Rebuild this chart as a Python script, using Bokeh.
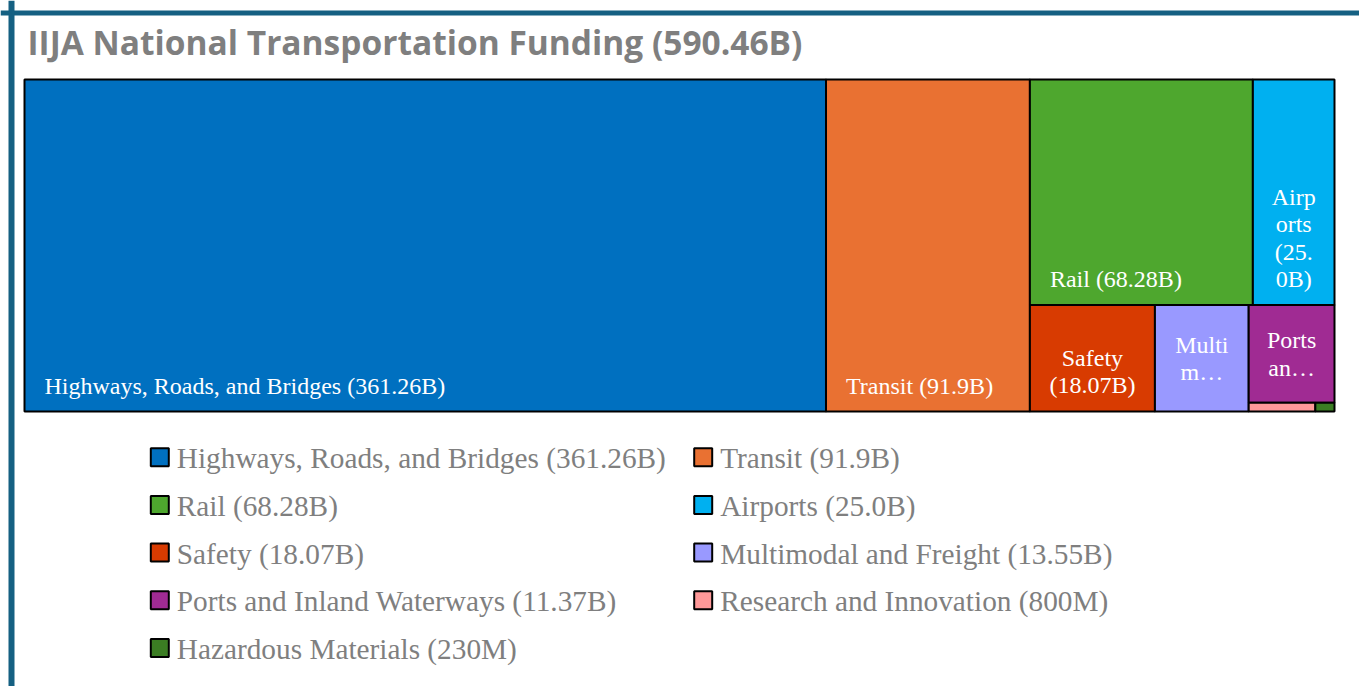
from bokeh.plotting import figure
from bokeh.models import ColumnDataSource, Range1d, Span, Label
from bokeh.core.properties import value
from bokeh.embed import file_html
from bokeh.resources import INLINE

# ---------------- data ----------------
categories = [
    "Highways, Roads, and Bridges",
    "Transit",
    "Rail",
    "Airports",
    "Safety",
    "Multimodal and Freight",
    "Ports and Inland Waterways",
    "Research and Innovation",
    "Hazardous Materials",
]
funding_billions = [361.26, 91.9, 68.28, 25.0, 18.07, 13.55, 11.37, 0.80, 0.23]
value_labels = ["361.26B", "91.9B", "68.28B", "25.0B", "18.07B", "13.55B", "11.37B", "800M", "230M"]
colors = ["#0070C0", "#E97132", "#4EA72E", "#00B0F0", "#D83B01",
          "#9999FF", "#A02B93", "#FF9999", "#3B7D23"]
# label text as it is shown inside each tile (wrapped / truncated)
tile_labels = [
    "Highways, Roads, and Bridges (361.26B)",
    "Transit (91.9B)",
    "Rail (68.28B)",
    "Airp\norts\n(25.\n0B)",
    "Safety\n(18.07B)",
    "Multi\nm\u2026",
    "Ports\nan\u2026",
    "",
    "",
]
tile_label_halign = ["left", "left", "left", "center", "center", "center", "center", "left", "left"]
tile_label_valign = ["bottom", "bottom", "bottom", "bottom", "bottom", "middle", "middle", "bottom", "bottom"]
total_label = "590.46B"
title_text = "IIJA National Transportation Funding (%s)" % total_label
legend_labels = ["%s (%s)" % (c, v) for c, v in zip(categories, value_labels)]

# ---------------- layout constants (pixels) ----------------
W, H = 1359, 686
TM_X0, TM_Y0, TM_X1, TM_Y1 = 24, 79, 1334, 411
SQUARIFY_RATIO = 1.232
BORDER = "#156082"
GRAY = "#7f7f7f"


def squarify(values, x0, y0, x1, y1, ratio):
    """d3-style squarified treemap (y grows downward)."""
    rects = [None] * len(values)
    remaining = float(sum(values))
    n = len(values)
    i0 = 0
    while i0 < n:
        dx, dy = x1 - x0, y1 - y0
        i1 = i0
        s = values[i1]
        i1 += 1
        mn = mx = s
        alpha = max(dy / dx, dx / dy) / (remaining * ratio)
        beta = s * s * alpha
        min_ratio = max(mx / beta, beta / mn)
        while i1 < n:
            v = values[i1]
            s2 = s + v
            mn2, mx2 = min(mn, v), max(mx, v)
            beta = s2 * s2 * alpha
            nr = max(mx2 / beta, beta / mn2)
            if nr > min_ratio:
                break
            s, mn, mx, min_ratio = s2, mn2, mx2, nr
            i1 += 1
        if dx < dy:
            yb = y0 + dy * s / remaining
            xx = x0
            for i in range(i0, i1):
                w = dx * values[i] / s
                rects[i] = (xx, y0, xx + w, yb)
                xx += w
            y0 = yb
        else:
            xb = x0 + dx * s / remaining
            yy = y0
            for i in range(i0, i1):
                h = dy * values[i] / s
                rects[i] = (x0, yy, xb, yy + h)
                yy += h
            x0 = xb
        remaining -= s
        i0 = i1
    return rects


rects = squarify(funding_billions, TM_X0, TM_Y0, TM_X1, TM_Y1, SQUARIFY_RATIO)

src = ColumnDataSource(dict(
    left=[r[0] for r in rects], top=[r[1] for r in rects],
    right=[r[2] for r in rects], bottom=[r[3] for r in rects],
    color=colors, name=categories,
))

p = figure(width=W, height=H, output_backend="svg", toolbar_location=None,
           x_range=Range1d(0, W), y_range=Range1d(H, 0),
           min_border=0, outline_line_color=None)
p.axis.visible = False
p.grid.visible = False
p.background_fill_color = "white"
p.border_fill_color = "white"

# frame lines
p.add_layout(Span(location=12.5, dimension="width", line_color=BORDER, line_width=5))
p.add_layout(Span(location=11, dimension="height", line_color=BORDER, line_width=6))

# title
p.add_layout(Label(x=27, y=41, text=title_text, text_font="Open Sans",
                   text_font_style="bold", text_font_size="33.5px", text_color=GRAY,
                   text_baseline="alphabetic", text_align="left"))

# treemap tiles
p.quad(left="left", right="right", top="top", bottom="bottom", source=src,
       fill_color="color", line_color="black", line_width=2)

# tile labels
groups = {}
for i, r in enumerate(rects):
    if not tile_labels[i]:
        continue
    ha, va = tile_label_halign[i], tile_label_valign[i]
    x = r[0] + 20 if ha == "left" else (r[0] + r[2]) / 2
    y = r[3] - 13 if va == "bottom" else (r[1] + r[3]) / 2
    g = groups.setdefault((ha, va), dict(x=[], y=[], t=[]))
    g["x"].append(x)
    g["y"].append(y)
    g["t"].append(tile_labels[i])
for (ha, va), g in groups.items():
    p.text(x=g["x"], y=g["y"], text=g["t"], text_align=ha, text_baseline=va,
           text_font=value("Liberation Serif"), text_font_size="24px",
           text_color="white", text_line_height=1.05)

# legend (2 columns, row-major)
LEG_X = [149.3, 692.7]
LEG_Y0, LEG_DY, SQ = 446.7, 47.7, 20
lx, ly, lt, lc = [], [], [], []
for i, lab in enumerate(legend_labels):
    row, col = divmod(i, 2)
    lx.append(LEG_X[col])
    ly.append(LEG_Y0 + row * LEG_DY)
    lt.append(lab)
    lc.append(colors[i])
p.rect(x=[x + SQ / 2 for x in lx], y=[y + SQ / 2 for y in ly], width=SQ - 2, height=SQ - 2,
       fill_color=lc, line_color="black", line_width=2)
p.text(x=[x + 27 for x in lx], y=[y + SQ / 2 + 1 for y in ly], text=lt,
       text_align="left", text_baseline="middle",
       text_font=value("Liberation Serif"), text_font_size="29.3px", text_color=GRAY)

open("out.html", "w").write(file_html(p, INLINE))
